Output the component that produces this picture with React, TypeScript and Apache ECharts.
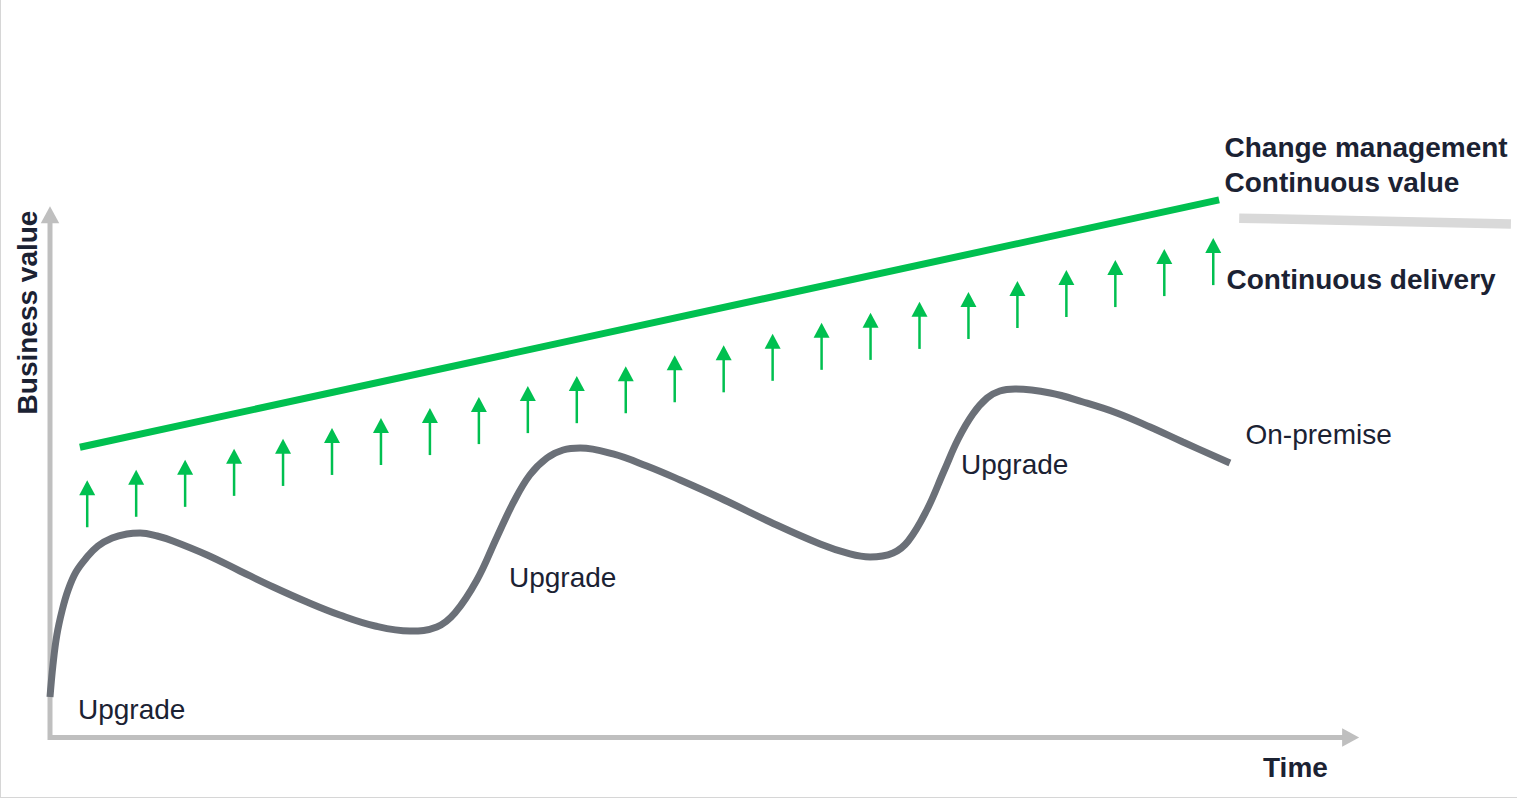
import React, { useEffect, useRef } from "react";
import * as echarts from "echarts";

// ---- Data (time units / business-value units) ----
const timeMax = 26.5;
const valueMax = 100;
const timeAxisEnd = 26.74; // where the Time arrow points
const valueAxisEnd = 101.6; // where the Business value arrow points

// Continuous delivery arrows: time position, shaft base value, tip value
const arrowTimes = [
  0.76, 1.76, 2.76, 3.76, 4.76, 5.76, 6.76, 7.76, 8.76, 9.76, 10.76, 11.76,
  12.76, 13.76, 14.76, 15.76, 16.76, 17.76, 18.76, 19.76, 20.76, 21.76, 22.76, 23.76,
];
const arrowBase = [
  40.2, 42.2, 44.1, 46.2, 48.1, 50.2, 52.1, 54.0, 56.1, 58.2, 60.1, 62.0,
  64.1, 66.0, 68.2, 70.3, 72.2, 74.3, 76.2, 78.3, 80.4, 82.3, 84.4, 86.5,
];
const arrowTip = [
  49.2, 51.2, 53.1, 55.2, 57.1, 59.2, 61.1, 63.0, 65.1, 67.2, 69.1, 71.0,
  73.1, 75.0, 77.2, 79.3, 81.2, 83.3, 85.2, 87.3, 89.4, 91.3, 93.4, 95.5,
];

// Continuous value line: [startTime, startValue, endTime, endValue]
const continuousValue = [0.61, 55.5, 23.88, 102.8];
// Light grey change-management line
const changeManagement = [24.29, 99.3, 29.84, 98.2];

// On-premise curve (time, value)
const onPremiseTime = [
  0.0, 0.06, 0.14, 0.25, 0.37, 0.53, 0.74, 0.98, 1.27, 1.57, 1.84, 2.19, 2.51,
  3.21, 3.88, 4.56, 5.25, 5.92, 6.64, 7.35, 7.9, 8.27, 8.72, 9.13, 9.46,
  9.8, 10.15, 10.48, 10.83, 11.5, 12.19, 12.87, 13.69, 14.71, 15.73, 16.34,
  16.75, 17.22, 17.53, 17.91, 18.26, 18.55, 18.85, 19.14, 19.4, 19.71,
  20.43, 21.1, 21.79, 22.47, 23.14, 24.1,
];
const onPremiseValue = [
  7.74, 13.86, 19.6, 24.38, 28.2, 31.64, 34.32, 36.62, 38.15, 38.91, 39.1, 38.53,
  37.57, 34.89, 31.84, 28.78, 25.91, 23.42, 21.32, 20.36, 21.13, 23.8, 30.11,
  38.34, 44.84, 50.19, 53.44, 54.97, 55.35, 54.21, 51.91, 49.24, 45.79,
  41.2, 37.0, 35.09, 34.51, 35.28, 37.57, 43.5, 50.96, 57.07, 61.85,
  64.91, 66.25, 66.63, 65.87, 64.15, 62.05, 59.37, 56.5, 52.49,
];

// ---- Styles ----
const GREEN = "#00c050";
const AXIS_GREY = "#bfbfbf";
const LIGHT_GREY = "#d9d9d9";
const CURVE_GREY = "#6b7078";
const INK = "#1b2233";
const FONT = '"Liberation Sans", Arial, Helvetica, sans-serif';
const FONT_SIZE = 28;

function label(text: string, x: number, y: number, bold: boolean) {
  return {
    type: "text",
    x,
    y,
    silent: true,
    style: {
      text,
      fill: INK,
      fontFamily: FONT,
      fontSize: FONT_SIZE,
      fontWeight: bold ? "bold" : "normal",
      align: "left",
      verticalAlign: "middle",
    },
  };
}

function segmentSeries(name: string, seg: number[], color: string, width: number, z: number) {
  return {
    name,
    type: "custom",
    clip: false,
    silent: true,
    data: [seg],
    encode: { x: [0, 2], y: [1, 3] },
    renderItem: (_params: any, api: any) => {
      const p0 = api.coord([api.value(0), api.value(1)]);
      const p1 = api.coord([api.value(2), api.value(3)]);
      return {
        type: "line",
        shape: { x1: p0[0], y1: p0[1], x2: p1[0], y2: p1[1] },
        style: { stroke: color, lineWidth: width, lineCap: "butt" },
      };
    },
    z,
  };
}

export default function App() {
  const ref = useRef<HTMLDivElement>(null);

  useEffect(() => {
    if (!ref.current) return;
    const chart = echarts.init(ref.current, undefined, { renderer: "svg" });

    const arrowData = arrowTimes.map((t, i) => [t, arrowBase[i], arrowTip[i]]);
    const curveData = onPremiseTime.map((t, i) => [t, onPremiseValue[i]]);

    const hiddenAxis = {
      type: "value",
      axisLine: { show: false },
      axisTick: { show: false },
      axisLabel: { show: false },
      splitLine: { show: false },
    };

    chart.setOption({
      animation: false,
      backgroundColor: "#ffffff",
      grid: { left: 50, right: 169.6, top: 214.5, bottom: 60.5, containLabel: false },
      xAxis: { ...hiddenAxis, min: 0, max: timeMax },
      yAxis: { ...hiddenAxis, min: 0, max: valueMax },
      series: [
        {
          name: "Axes",
          type: "custom",
          clip: false,
          silent: true,
          data: [[0, 0, timeAxisEnd, valueAxisEnd]],
          encode: { x: [0, 2], y: [1, 3] },
          renderItem: (_params: any, api: any) => {
            const o = api.coord([api.value(0), api.value(1)]);
            const xe = api.coord([api.value(2), api.value(1)]);
            const ye = api.coord([api.value(0), api.value(3)]);
            const head = 17;
            const half = 9.25;
            return {
              type: "group",
              children: [
                {
                  type: "polyline",
                  shape: {
                    points: [
                      [o[0], ye[1] + head - 1],
                      [o[0], o[1]],
                      [xe[0] - head + 1, o[1]],
                    ],
                  },
                  style: { stroke: AXIS_GREY, lineWidth: 5, lineJoin: "miter", fill: null },
                },
                {
                  type: "polygon",
                  shape: {
                    points: [
                      [xe[0], xe[1]],
                      [xe[0] - head, xe[1] - half],
                      [xe[0] - head, xe[1] + half],
                    ],
                  },
                  style: { fill: AXIS_GREY },
                },
                {
                  type: "polygon",
                  shape: {
                    points: [
                      [ye[0], ye[1]],
                      [ye[0] - half, ye[1] + head],
                      [ye[0] + half, ye[1] + head],
                    ],
                  },
                  style: { fill: AXIS_GREY },
                },
              ],
            };
          },
          z: 1,
        },
        segmentSeries("Change management", changeManagement, LIGHT_GREY, 9.5, 2),
        segmentSeries("Continuous value", continuousValue, GREEN, 7, 3),
        {
          name: "Continuous delivery",
          type: "custom",
          clip: false,
          silent: true,
          data: arrowData,
          encode: { x: 0, y: [1, 2] },
          renderItem: (_params: any, api: any) => {
            const t = api.value(0);
            const pB = api.coord([t, api.value(1)]);
            const pT = api.coord([t, api.value(2)]);
            const headH = 15;
            const headW = 16;
            return {
              type: "group",
              children: [
                {
                  type: "line",
                  shape: { x1: pB[0], y1: pB[1], x2: pT[0], y2: pT[1] + headH - 1 },
                  style: { stroke: GREEN, lineWidth: 2.5 },
                },
                {
                  type: "polygon",
                  shape: {
                    points: [
                      [pT[0], pT[1]],
                      [pT[0] - headW / 2, pT[1] + headH],
                      [pT[0] + headW / 2, pT[1] + headH],
                    ],
                  },
                  style: { fill: GREEN },
                },
              ],
            };
          },
          z: 3,
        },
        {
          name: "On-premise",
          type: "line",
          data: curveData,
          symbol: "none",
          smooth: 0.4,
          clip: false,
          silent: true,
          lineStyle: { color: CURVE_GREY, width: 7, cap: "butt" },
          z: 4,
        },
      ],
      graphic: [
        {
          type: "line",
          silent: true,
          shape: { x1: 0.5, y1: 0, x2: 0.5, y2: 798 },
          style: { stroke: "#d6d6d6", lineWidth: 1 },
        },
        {
          type: "line",
          silent: true,
          shape: { x1: 0, y1: 797.5, x2: 1517, y2: 797.5 },
          style: { stroke: "#d6d6d6", lineWidth: 1 },
        },
        {
          type: "text",
          x: 27,
          y: 312.5,
          rotation: Math.PI / 2,
          silent: true,
          style: {
            text: "Business value",
            fill: INK,
            fontFamily: FONT,
            fontSize: FONT_SIZE,
            fontWeight: "bold",
            align: "center",
            verticalAlign: "middle",
          },
        },
        label("Time", 1263, 767, true),
        label("Change management", 1224.5, 147, true),
        label("Continuous value", 1224.5, 182, true),
        label("Continuous delivery", 1226.5, 279, true),
        label("On-premise", 1245.5, 434, false),
        label("Upgrade", 78, 709, false),
        label("Upgrade", 509, 577, false),
        label("Upgrade", 961, 464, false),
      ],
    });

    return () => chart.dispose();
  }, []);

  return (
    <div
      ref={ref}
      style={{ position: "fixed", left: 0, top: 0, width: 1517, height: 798 }}
    />
  );
}
